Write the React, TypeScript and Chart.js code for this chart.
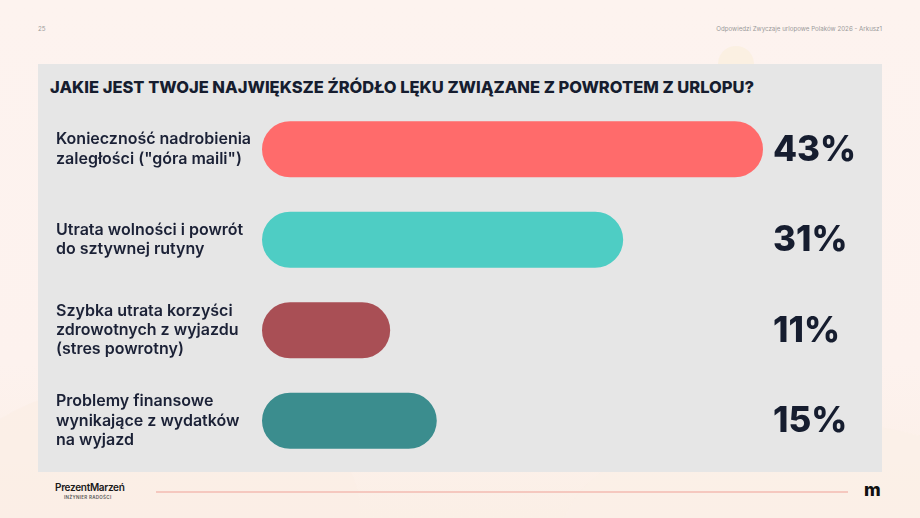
import { useEffect, useRef } from 'react';
import { Chart, registerables } from 'chart.js';

Chart.register(...registerables);

// answers, split into the lines used on the slide
const categories = [
  ['Konieczność nadrobienia', 'zaległości ("góra maili")'],
  ['Utrata wolności i powrót', 'do sztywnej rutyny'],
  ['Szybka utrata korzyści', 'zdrowotnych z wyjazdu', '(stres powrotny)'],
  ['Problemy finansowe', 'wynikające z wydatków', 'na wyjazd'],
];
const shares = [43, 31, 11, 15];
const barColors = ['#ff6b6b', '#4ecdc4', '#a94f55', '#3b8d8e'];

const TITLE = 'JAKIE JEST TWOJE NAJWIĘKSZE ŹRÓDŁO LĘKU ZWIĄZANE Z POWROTEM Z URLOPU?';
const DARK = '#161d2f';

// category names on the left and percentages on the right of each bar
const barLabels = {
  id: 'barLabels',
  afterDatasetsDraw(chart: any) {
    const { ctx, chartArea } = chart;
    const meta = chart.getDatasetMeta(0);
    ctx.save();
    ctx.textBaseline = 'middle';
    meta.data.forEach((bar: any, i: number) => {
      const lines = categories[i];
      const lh = 19.2;
      ctx.font = '600 16px Inter';
      ctx.fillStyle = '#1b2136';
      ctx.textAlign = 'left';
      lines.forEach((line, j) => {
        ctx.fillText(line, 18, bar.y + (j - (lines.length - 1) / 2) * lh);
      });
      ctx.font = '800 35px Inter';
      ctx.fillStyle = DARK;
      ctx.fillText(shares[i] + '%', chartArea.right + 10, bar.y + 1);
    });
    ctx.restore();
  },
};

const BarChart = () => {
  const chartRef = useRef<HTMLCanvasElement>(null);

  useEffect(() => {
    let myChart: any = null;
    if (chartRef.current) {
      myChart = new Chart(chartRef.current, {
        type: 'bar',
        data: {
          labels: categories.map((c) => c.join(' ')),
          datasets: [{
            data: shares,
            backgroundColor: barColors,
            borderRadius: 100,
            borderSkipped: false,
            barPercentage: 0.62,
            categoryPercentage: 1,
          }],
        },
        options: {
          indexAxis: 'y',
          animation: false,
          responsive: true,
          maintainAspectRatio: false,
          layout: { padding: { left: 224, right: 119, top: 4, bottom: 4 } },
          plugins: {
            legend: { display: false },
            tooltip: { enabled: false },
          },
          scales: {
            x: {
              display: false,
              min: 0,
              max: Math.max(...shares),
            },
            y: {
              display: false,
            },
          },
        },
        plugins: [barLabels],
      } as any);
    }
    return () => {
      if (myChart) myChart.destroy();
    };
  }, []);

  return (
    <div style={{ position: 'absolute', left: 38, top: 100, width: 844, height: 370 }}>
      <canvas ref={chartRef}></canvas>
    </div>
  );
};

const App = () => {
  return (
    <div style={{
      position: 'absolute', left: 0, top: 0, width: 920, height: 518, overflow: 'hidden',
      background: 'linear-gradient(180deg, #fdf3ef 0%, #fdf2ee 70%, #fbefe6 100%)',
      fontFamily: 'Inter, sans-serif',
    }}>
      {/* faint decorative shapes */}
      <div style={{ position: 'absolute', left: 718, top: 46, width: 36, height: 36, borderRadius: '50%', background: '#fbf0e2' }} />
      <div style={{ position: 'absolute', left: -60, top: 380, width: 420, height: 260, borderRadius: '50%', background: '#fbeee6', opacity: 0.7 }} />
      <div style={{ position: 'absolute', left: 560, top: 420, width: 480, height: 240, borderRadius: '50%', background: '#fbefe7', opacity: 0.7 }} />

      <div style={{ position: 'absolute', left: 38, top: 25, fontSize: 6.2, color: '#9a9a9a' }}>25</div>
      <div style={{ position: 'absolute', right: 38, top: 25, fontSize: 6.2, color: '#9a9a9a' }}>
        Odpowiedzi Zwyczaje urlopowe Polaków 2026 - Arkusz1
      </div>

      <div style={{ position: 'absolute', left: 38, top: 64, width: 844, height: 408, background: '#e6e6e6' }} />
      <div style={{
        position: 'absolute', left: 50, top: 77, fontSize: 16.5, lineHeight: '20px', fontWeight: 800,
        color: DARK, whiteSpace: 'nowrap',
      }}>{TITLE}</div>

      <BarChart />

      {/* footer */}
      <div style={{ position: 'absolute', left: 55, top: 481, fontSize: 10, fontWeight: 600, color: '#1a1a1a', letterSpacing: -0.3 }}>
        PrezentMarzeń
      </div>
      <div style={{ position: 'absolute', left: 64, top: 495, fontSize: 4.5, fontWeight: 600, color: '#555', letterSpacing: 0.3 }}>
        INŻYNIER RADOŚCI
      </div>
      <div style={{ position: 'absolute', left: 156, top: 491, width: 692, height: 1.5, background: '#f5c8bf' }} />
      <div style={{ position: 'absolute', left: 864, top: 480, fontSize: 18, fontWeight: 800, color: '#111', lineHeight: '20px' }}>m</div>
    </div>
  );
};

export default App;
